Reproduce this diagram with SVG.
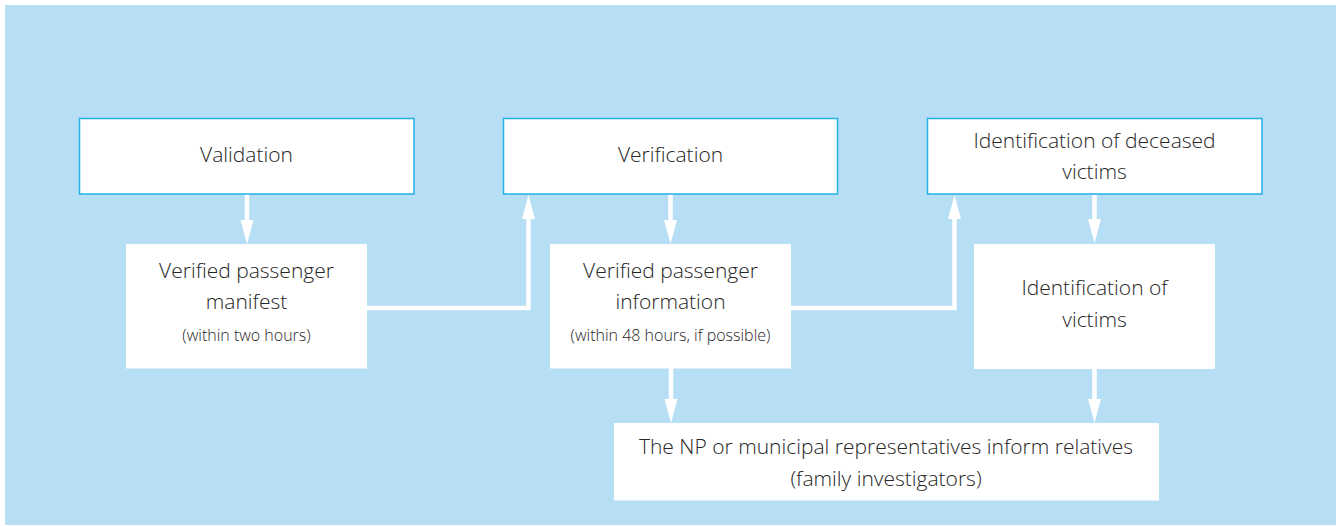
<svg xmlns="http://www.w3.org/2000/svg" width="1338" height="526" viewBox="0 0 1338 526">
  <style>
    .panel { fill: #b6def5; }
    .box { fill: #ffffff; }
    .framed { stroke: #22b2e8; stroke-width: 1.5; }
    .label { font-family: "Open Sans", "Liberation Sans", sans-serif; font-weight: 300; font-size: 21px; fill: #262626; text-anchor: middle; }
    .note { font-size: 16px; }
    .link { fill: none; stroke: #ffffff; stroke-width: 4.5; marker-end: url(#head); }
  </style>
  <defs>
    <marker id="head" markerUnits="userSpaceOnUse" markerWidth="24" markerHeight="13" refX="2" refY="6.5" orient="auto" overflow="visible">
      <path d="M0,0 L24,6.5 L0,13 z" fill="#ffffff"/>
    </marker>
  </defs>

  <rect class="panel" x="5" y="5" width="1331" height="520"/>

  <!-- connectors: each path stops 22px short of its target edge; the marker supplies the tip -->
  <g id="connectors">
    <path class="link" d="M247,194 V222"/>
    <path class="link" d="M367,308 H528.5 V217"/>
    <path class="link" d="M670.5,194 V222"/>
    <path class="link" d="M791,308 H954.5 V217"/>
    <path class="link" d="M1094.5,195 V221"/>
    <path class="link" d="M671,368 V401"/>
    <path class="link" d="M1094.5,369 V401"/>
  </g>

  <g id="validation">
    <rect class="box framed" x="79.5" y="118.5" width="334.5" height="75.5"/>
    <text class="label" x="246.5" y="162">Validation</text>
  </g>

  <g id="verification">
    <rect class="box framed" x="503.5" y="118.5" width="334" height="75.5"/>
    <text class="label" x="670.5" y="162">Verification</text>
  </g>

  <g id="identification-deceased">
    <rect class="box framed" x="927.5" y="118.5" width="334.5" height="75.5"/>
    <text class="label" x="1094.5" y="147.5">Identification of deceased</text>
    <text class="label" x="1094.5" y="179">victims</text>
  </g>

  <g id="passenger-manifest">
    <rect class="box" x="126" y="244" width="241" height="124.5"/>
    <text class="label" x="246.5" y="277.5">Verified passenger</text>
    <text class="label" x="246.5" y="309">manifest</text>
    <text class="label note" x="246.5" y="341">(within two hours)</text>
  </g>

  <g id="passenger-information">
    <rect class="box" x="550" y="244" width="241" height="124.5"/>
    <text class="label" x="670.5" y="277.5">Verified passenger</text>
    <text class="label" x="670.5" y="309">information</text>
    <text class="label note" x="670.5" y="341">(within 48 hours, if possible)</text>
  </g>

  <g id="identification-victims">
    <rect class="box" x="974" y="244" width="241" height="125"/>
    <text class="label" x="1094.5" y="295">Identification of</text>
    <text class="label" x="1094.5" y="326.5">victims</text>
  </g>

  <g id="inform-relatives">
    <rect class="box" x="614" y="423" width="545" height="77.5"/>
    <text class="label" x="886" y="453.5">The NP or municipal representatives inform relatives</text>
    <text class="label" x="886" y="485.5">(family investigators)</text>
  </g>
</svg>
